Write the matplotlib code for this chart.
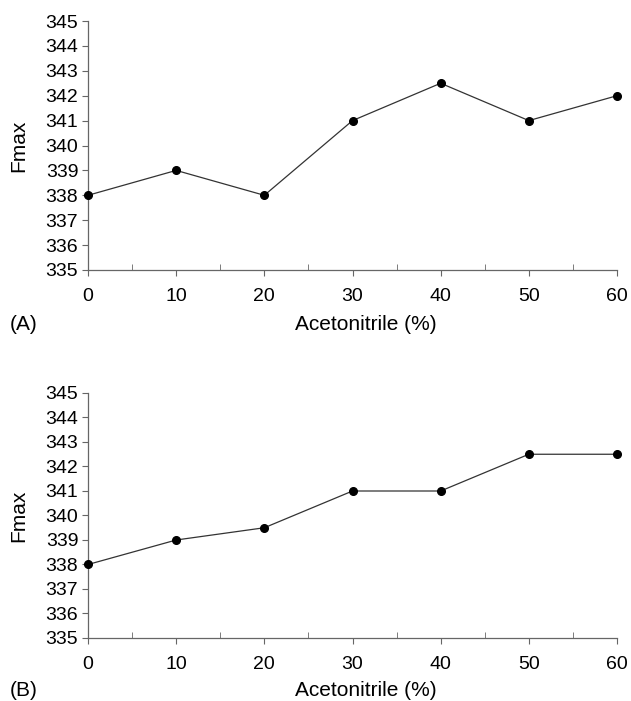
import matplotlib
matplotlib.use("Agg")
import matplotlib.pyplot as plt
from matplotlib.ticker import MultipleLocator

acetonitrile = [0, 10, 20, 30, 40, 50, 60]
fmax_a = [338, 339, 338, 341, 342.5, 341, 342]
fmax_b = [338, 339, 339.5, 341, 341, 342.5, 342.5]

plt.rcParams['font.family'] = ['Liberation Sans', 'DejaVu Sans']

fig = plt.figure(figsize=(6.31, 7.01), dpi=100)

W, H = 631, 701
panels = [
    # (data, label, axes top px, axes bottom px, label y px)
    (fmax_a, "(A)", 21, 270, 325),
    (fmax_b, "(B)", 393, 638, 690),
]

for vals, tag, top, bot, ly in panels:
    ax = fig.add_axes([88 / W, 1 - bot / H, (617 - 88) / W, (bot - top) / H])
    ax.plot(acetonitrile, vals, color='#333333', lw=0.9,
            marker='o', ms=5.5, mfc='black', mec='black', clip_on=False, zorder=3)
    ax.set_xlim(0, 60)
    ax.set_ylim(335, 345)
    ax.xaxis.set_major_locator(MultipleLocator(10))
    ax.xaxis.set_minor_locator(MultipleLocator(5))
    ax.yaxis.set_major_locator(MultipleLocator(1))
    for s in ('top', 'right'):
        ax.spines[s].set_visible(False)
    for s in ('left', 'bottom'):
        ax.spines[s].set_color('#666666')
        ax.spines[s].set_linewidth(0.9)
    ax.tick_params(axis='x', which='major', direction='out', length=4,
                   color='#666666', labelsize=14, pad=9)
    ax.tick_params(axis='x', which='minor', direction='in', length=4, color='#666666')
    ax.tick_params(axis='y', which='major', direction='out', length=4,
                   color='#666666', labelsize=14, pad=3)
    ax.set_ylabel("Fmax", fontsize=15)
    ax.yaxis.set_label_coords(-0.113, 0.5)
    fig.text(10 / W, 1 - ly / H, tag, fontsize=15, va='center', ha='left')
    fig.text(366 / W, 1 - ly / H, "Acetonitrile (%)", fontsize=15, va='center', ha='center')

fig.savefig("out.png", dpi=100)
